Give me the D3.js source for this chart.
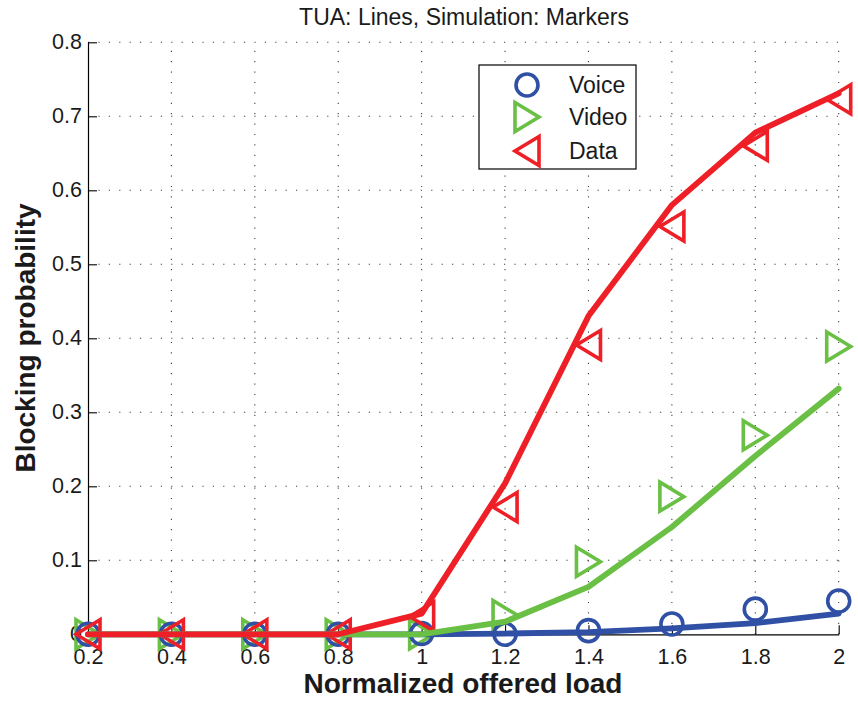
<!DOCTYPE html>
<html>
<head>
<meta charset="utf-8">
<script src="https://cdn.jsdelivr.net/npm/d3@7"></script>
<style>
  html, body { margin: 0; padding: 0; background: #fff; }
  svg { display: block; font-family: "Liberation Sans", Arial, Helvetica, sans-serif; }
</style>
</head>
<body>
<svg id="chart" width="858" height="704"></svg>
<script>
// Normalized offered load
const loads = [0.2, 0.4, 0.6, 0.8, 1.0, 1.2, 1.4, 1.6, 1.8, 2.0];

// Analytical (TUA) blocking probabilities, drawn as lines
const voiceTUA = [0, 0, 0, 0, 0, 0.001, 0.003, 0.008, 0.015, 0.028];
const videoTUA = [0, 0, 0, 0, 0, 0.017, 0.064, 0.145, 0.241, 0.332];
const dataTUA  = [0, 0, 0, 0, 0.028, 0.204, 0.430, 0.580, 0.678, 0.731];

// Simulated blocking probabilities, drawn as markers
const voiceSim = [0, 0, 0, 0, 0.001, 0, 0.005, 0.014, 0.034, 0.045];
const videoSim = [0, 0, 0, 0, 0, 0.026, 0.098, 0.186, 0.269, 0.389];
const dataSim  = [0, 0, 0, 0, 0.024, 0.172, 0.391, 0.551, 0.660, 0.723];

const xTicks = [0.2, 0.4, 0.6, 0.8, 1, 1.2, 1.4, 1.6, 1.8, 2];
const yTicks = [0, 0.1, 0.2, 0.3, 0.4, 0.5, 0.6, 0.7, 0.8];

const seriesNames = ["Voice", "Video", "Data"];
const seriesColors = ["#2f50a4", "#6abf45", "#ee1f26"];
const seriesShapes = ["circle", "right", "left"];

const svg = d3.select("#chart");
const plotLeft = 88, plotRight = 838.7, plotTop = 42.3, plotBottom = 634.3;

const x = d3.scaleLinear().domain([0.2, 2]).range([plotLeft, plotRight]);
const y = d3.scaleLinear().domain([0, 0.8]).range([plotBottom, plotTop]);

// Dotted grid
const grid = svg.append("g").attr("stroke", "#444").attr("stroke-width", 1.1)
  .attr("stroke-dasharray", "1.2 9.2").attr("fill", "none");
xTicks.slice(1).forEach(t => grid.append("line")
  .attr("x1", x(t)).attr("x2", x(t)).attr("y1", plotBottom).attr("y2", plotTop));
yTicks.slice(1).forEach(t => grid.append("line")
  .attr("x1", plotLeft).attr("x2", plotRight).attr("y1", y(t)).attr("y2", y(t)));

// Axes with inward ticks
const xAxis = svg.append("g").attr("transform", `translate(0,${plotBottom})`)
  .call(d3.axisBottom(x).tickValues(xTicks).tickFormat(d3.format("~g"))
    .tickSizeInner(-9).tickSizeOuter(0));
const yAxis = svg.append("g").attr("transform", `translate(${plotLeft},0)`)
  .call(d3.axisLeft(y).tickValues(yTicks).tickFormat(d3.format("~g"))
    .tickSizeInner(-9).tickSizeOuter(0));
[xAxis, yAxis].forEach(a => {
  a.select(".domain").attr("stroke", "#000").attr("stroke-width", 1.2);
  a.selectAll(".tick line").attr("stroke", "#000").attr("stroke-width", 1.1);
  a.selectAll(".tick text").attr("fill", "#1a1a1a")
    .style("font-size", "21.5px").style("font-family", "'Liberation Sans', Arial, sans-serif");
});
xAxis.selectAll(".tick text").attr("y", 30).attr("dy", null);
yAxis.selectAll(".tick text").attr("x", -6).attr("dy", "0.31em");

// Marker path generator
function markerPath(shape) {
  if (shape === "circle") return d3.symbol().type(d3.symbolCircle).size(Math.PI * 11 * 11)();
  const w = 24, h = 29;
  if (shape === "right") return `M${-w/2},${-h/2}L${w/2},0L${-w/2},${h/2}Z`;
  return `M${w/2},${-h/2}L${-w/2},0L${w/2},${h/2}Z`;
}

const simSets = [voiceSim, videoSim, dataSim];
const tuaSets = [voiceTUA, videoTUA, dataTUA];

// Simulation markers
[1, 0, 2].forEach(i => {
  svg.append("g").selectAll("path").data(loads.map((l, k) => [l, simSets[i][k]]))
    .join("path")
    .attr("d", markerPath(seriesShapes[i]))
    .attr("transform", d => `translate(${x(d[0])},${y(d[1])})`)
    .attr("fill", "none").attr("stroke", seriesColors[i]).attr("stroke-width", 3.6)
    .attr("stroke-linejoin", "miter");
});

// TUA lines
const line = d3.line().x(d => x(d[0])).y(d => y(d[1]));
[0, 1, 2].forEach(i => {
  svg.append("path")
    .datum(loads.map((l, k) => [l, tuaSets[i][k]]))
    .attr("d", line)
    .attr("fill", "none").attr("stroke", seriesColors[i]).attr("stroke-width", 5.8)
    .attr("stroke-linejoin", "round").attr("stroke-linecap", "round");
});

// Legend
const lg = svg.append("g");
lg.append("rect").attr("x", 479).attr("y", 65).attr("width", 157).attr("height", 104)
  .attr("fill", "#fff").attr("stroke", "#000").attr("stroke-width", 1.2);
const legendRows = [85, 117, 151];
seriesNames.forEach((name, i) => {
  lg.append("path").attr("d", markerPath(seriesShapes[i]))
    .attr("transform", `translate(527,${legendRows[i]})`)
    .attr("fill", "none").attr("stroke", seriesColors[i]).attr("stroke-width", 3.6);
  lg.append("text").attr("x", 569).attr("y", legendRows[i]).attr("dy", "0.36em")
    .attr("fill", "#1a1a1a").style("font-size", "23px").text(name);
});

// Title and axis labels
svg.append("text").attr("x", 464).attr("y", 25).attr("text-anchor", "middle")
  .attr("fill", "#1a1a1a").style("font-size", "23px").text("TUA: Lines, Simulation: Markers");
svg.append("text").attr("x", 463).attr("y", 693).attr("text-anchor", "middle")
  .attr("fill", "#1a1a1a").style("font-size", "28px").style("font-weight", "bold")
  .text("Normalized offered load");
svg.append("text").attr("transform", "translate(35,338) rotate(-90)").attr("text-anchor", "middle")
  .attr("fill", "#1a1a1a").style("font-size", "28px").style("font-weight", "bold")
  .text("Blocking probability");
</script>
</body>
</html>
